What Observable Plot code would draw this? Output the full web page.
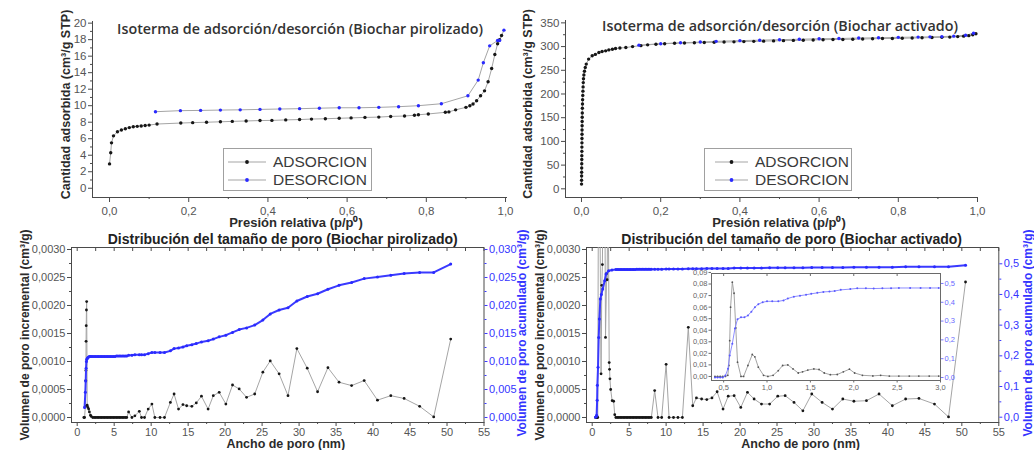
<!DOCTYPE html>
<html lang="es">
<head>
<meta charset="utf-8">
<script src="https://cdn.jsdelivr.net/npm/d3@7"></script>
<script src="https://cdn.jsdelivr.net/npm/@observablehq/plot@0.6"></script>
<style>
html,body{margin:0;padding:0;background:#fff;}
#chart{position:relative;width:1034px;height:450px;overflow:hidden;background:#fff;}
.lg{position:absolute;border:1px solid #a0a0a0;background:#fff;box-sizing:border-box;font-family:'Liberation Sans',Arial,sans-serif;font-size:15.5px;color:#3a3a3a;}
.lg .row{position:absolute;left:0;height:18px;width:100%;}
.lg svg{position:absolute;left:0;top:0;}
.lg span{position:absolute;line-height:18px;top:0;white-space:nowrap;}
</style>
</head>
<body>
<div id="chart"></div>
<script>
// ---------------- DATA ----------------
// Isotherm, pyrolyzed biochar [p/p0, cm3/g STP]
const isoPirAds = [[0.000,2.95],[0.003,4.3],[0.005,5.5],[0.010,6.35],[0.020,6.85],[0.030,7.05],[0.040,7.2],[0.050,7.35],[0.060,7.45],[0.070,7.5],[0.080,7.55],[0.090,7.6],[0.100,7.65],[0.120,7.78],[0.180,7.9],[0.210,7.95],[0.245,8.0],[0.280,8.05],[0.310,8.1],[0.345,8.15],[0.380,8.2],[0.410,8.22],[0.445,8.28],[0.480,8.32],[0.510,8.38],[0.545,8.42],[0.580,8.48],[0.610,8.52],[0.645,8.58],[0.680,8.62],[0.710,8.7],[0.745,8.75],[0.770,8.85],[0.780,8.9],[0.805,9.0],[0.848,9.2],[0.857,9.25],[0.874,9.5],[0.900,9.8],[0.910,10.0],[0.918,10.2],[0.927,10.6],[0.937,11.2],[0.947,11.8],[0.956,12.9],[0.965,14.5],[0.973,16.2],[0.980,17.5],[0.985,18.0],[0.990,18.5]];
const isoPirDes = [[0.116,9.27],[0.179,9.4],[0.230,9.43],[0.280,9.47],[0.330,9.5],[0.380,9.55],[0.430,9.6],[0.480,9.64],[0.530,9.7],[0.580,9.75],[0.630,9.75],[0.680,9.8],[0.730,9.88],[0.780,10.0],[0.838,10.24],[0.905,11.2],[0.931,13.1],[0.944,15.2],[0.960,17.25],[0.980,17.9],[0.985,17.9],[0.996,19.15]];
// Isotherm, activated biochar
const isoActAds = [[0.0001,10],[0.0002,18],[0.0003,27],[0.0004,35],[0.0005,44],[0.0006,53],[0.0007,62],[0.0008,70],[0.0009,79],[0.0010,88],[0.0011,97],[0.0012,106],[0.0013,115],[0.0014,124],[0.0015,133],[0.0016,142],[0.0018,151],[0.0020,160],[0.0022,170],[0.0025,179],[0.0028,188],[0.0032,197],[0.0036,206],[0.0040,215],[0.0045,224],[0.0050,232],[0.006,240],[0.0075,248],[0.0095,256],[0.012,263],[0.018,273.6],[0.027,280.6],[0.035,283.5],[0.044,287.6],[0.052,289.7],[0.061,291],[0.069,293],[0.078,294.5],[0.086,296],[0.097,297],[0.112,298],[0.129,300],[0.150,302],[0.167,303.6],[0.188,305],[0.210,306],[0.235,307],[0.260,307.5],[0.285,308],[0.310,308.5],[0.335,309],[0.360,309.5],[0.385,310],[0.410,310.5],[0.435,311],[0.460,311.5],[0.485,312],[0.510,312.5],[0.535,313],[0.560,313.5],[0.585,314],[0.610,314.5],[0.635,315],[0.660,315],[0.685,315.5],[0.710,316],[0.735,316.5],[0.760,317],[0.785,317],[0.810,317.5],[0.835,318],[0.860,318.5],[0.885,319],[0.910,319.5],[0.930,320],[0.950,321],[0.965,322],[0.978,323],[0.988,325],[0.996,327]];
const isoActDes = [[0.145,303],[0.200,306],[0.250,308],[0.300,309.5],[0.340,311],[0.400,312.5],[0.450,313.5],[0.500,314.5],[0.550,315.5],[0.600,316.5],[0.650,317],[0.700,318],[0.750,318.5],[0.800,319.5],[0.850,320],[0.880,320.5],[0.910,321],[0.940,322],[0.970,324],[0.990,328]];
// Pore size distribution, pyrolyzed biochar [nm, incremental cm3/g] and [nm, cumulative cm3/g]
const psdPirInc = [[0.9,0],[1.0,0],[1.1,0.0002],[1.15,0.00066],[1.18,0.00084],[1.2,0.00136],[1.22,0.00164],[1.25,0.00192],[1.28,0.00207],[1.35,0.00022],[1.45,0.00018],[1.55,0.00015],[1.65,0.0001],[1.8,0.00004],[1.9,0.00002],[2.1,0],[2.3,0],[2.5,0],[2.7,0],[2.9,0],[3.1,0],[3.3,0],[3.5,0],[3.7,0],[3.9,0],[4.1,0],[4.3,0],[4.5,0],[4.7,0],[4.9,0],[5.1,0],[5.3,0],[5.5,0],[5.7,0],[5.9,0],[6.1,0],[6.3,0],[6.5,0],[6.7,0],[6.95,0.0001],[7.4,0],[7.8,0.00003],[8.4,0.00011],[8.7,0],[9.1,0],[9.6,0.00015],[10.1,0.00024],[10.5,0],[11.2,0],[11.8,0],[12.6,0.00027],[13.1,0.00042],[13.7,0.00015],[14.3,0.00023],[14.8,0.00021],[15.5,0.0002],[16.1,0.00026],[16.8,0.00038],[17.7,0.00015],[18.4,0.00039],[19.2,0.00045],[20.1,0.00024],[21.0,0.00058],[21.9,0.00051],[22.9,0.00036],[24.0,0.00042],[25.1,0.00081],[26.1,0.00101],[27.3,0.00078],[28.5,0.00039],[29.7,0.00123],[31.1,0.00088],[32.5,0.00046],[33.9,0.00089],[35.4,0.00063],[37.1,0.00057],[38.8,0.00066],[40.6,0.00031],[42.4,0.00039],[44.2,0.00034],[46.3,0.0002],[48.2,0.00001],[50.5,0.0014]];
const psdPirCum = [[1.0,0.0018],[1.1,0.0045],[1.15,0.0065],[1.2,0.0088],[1.25,0.0100],[1.3,0.0104],[1.38,0.0106],[1.45,0.0107],[1.55,0.0108],[1.65,0.0109],[1.8,0.0109],[1.9,0.0109],[2.1,0.0109],[2.3,0.0109],[2.5,0.0109],[2.7,0.0109],[2.9,0.0109],[3.1,0.0109],[3.3,0.0109],[3.5,0.0109],[3.7,0.0109],[3.9,0.0109],[4.1,0.0109],[4.3,0.0109],[4.5,0.0109],[4.7,0.0109],[4.9,0.0109],[5.1,0.0109],[5.3,0.011],[5.5,0.011],[5.7,0.011],[5.9,0.011],[6.1,0.011],[6.3,0.011],[6.5,0.011],[6.7,0.011],[6.95,0.0111],[7.4,0.0111],[7.8,0.0112],[8.4,0.0112],[8.7,0.0112],[9.1,0.0112],[9.6,0.0114],[10.1,0.0116],[10.5,0.0116],[11.2,0.0116],[11.8,0.0116],[12.6,0.0119],[13.1,0.0123],[13.7,0.0124],[14.3,0.0126],[14.8,0.0128],[15.5,0.013],[16.1,0.0132],[16.8,0.0135],[17.7,0.0137],[18.4,0.014],[19.2,0.0144],[20.1,0.0147],[21.0,0.0152],[21.9,0.0157],[22.9,0.016],[24.0,0.0165],[25.1,0.0174],[26.1,0.0185],[27.3,0.0192],[28.5,0.0196],[29.7,0.0208],[31.1,0.0216],[32.5,0.0221],[33.9,0.0229],[35.4,0.0236],[37.1,0.0241],[38.8,0.0248],[40.6,0.0251],[42.4,0.0254],[44.2,0.0257],[46.3,0.0259],[48.2,0.0259],[50.5,0.0274]];
// Pore size distribution, activated biochar (values above 0.0030 run off the top of the frame)
const psdActInc = [[0.45,0],[0.55,0],[0.65,0],[0.75,0],[0.85,0.0045],[1.0,0.0045],[1.2,0.00078],[1.3,0.00236],[1.38,0.00273],[1.5,0.0045],[1.7,0.0045],[1.8,0.00143],[1.95,0.00257],[2.02,0.00246],[2.15,0.0045],[2.3,0.00098],[2.35,0.00086],[2.4,0.00069],[2.5,0.0005],[2.7,0.0003],[2.9,0.00029],[3.05,0.00005],[3.2,0],[3.4,0],[3.6,0],[3.8,0],[4.0,0],[4.2,0],[4.4,0],[4.6,0],[4.8,0],[5.0,0],[5.2,0],[5.4,0],[5.6,0],[5.8,0],[6.0,0],[6.2,0],[6.4,0],[6.6,0],[6.8,0],[7.0,0],[7.2,0],[7.4,0],[7.6,0],[7.8,0],[8.0,0],[8.45,0.00048],[8.9,0],[9.4,0],[10.0,0.00095],[10.4,0],[11.0,0],[11.6,0],[12.2,0],[13.0,0.00161],[13.6,0.00021],[14.1,0.00035],[14.8,0.00033],[15.5,0.00032],[16.2,0.00035],[16.9,0.00046],[17.7,0.00015],[18.4,0.00038],[19.2,0.00039],[20.1,0.00018],[21.0,0.00045],[21.9,0.00033],[22.9,0.00024],[24.0,0.00024],[25.1,0.00038],[26.1,0.00039],[27.3,0.00027],[28.5,0.00012],[29.7,0.00042],[31.1,0.00027],[32.5,0.00015],[33.9,0.00033],[35.4,0.00029],[37.1,0.0003],[38.8,0.00042],[40.6,0.00021],[42.4,0.00033],[44.2,0.00034],[46.3,0.00024],[48.2,0.00001],[50.5,0.00242]];
const psdActCum = [[0.45,0],[0.55,0.002],[0.6,0.006],[0.67,0.055],[0.7,0.104],[0.79,0.163],[0.88,0.26],[0.97,0.32],[1.1,0.385],[1.24,0.40],[1.42,0.418],[1.69,0.445],[1.87,0.467],[2.23,0.477],[2.67,0.48],[3.2,0.481],[3.4,0.481],[3.6,0.481],[3.8,0.481],[4.0,0.481],[4.2,0.481],[4.4,0.481],[4.6,0.481],[4.8,0.481],[5.0,0.481],[5.2,0.481],[5.4,0.481],[5.6,0.481],[5.8,0.481],[6.0,0.482],[6.2,0.482],[6.4,0.482],[6.6,0.482],[6.8,0.482],[7.0,0.482],[7.2,0.482],[7.4,0.482],[7.6,0.482],[7.8,0.482],[8.0,0.482],[8.45,0.482],[8.9,0.482],[9.4,0.482],[10.0,0.483],[10.4,0.483],[11.0,0.483],[11.6,0.483],[12.2,0.483],[13.0,0.484],[13.6,0.484],[14.1,0.484],[14.8,0.484],[15.5,0.485],[16.2,0.485],[16.9,0.485],[17.7,0.485],[18.4,0.485],[19.2,0.486],[20.1,0.486],[21.0,0.486],[21.9,0.486],[22.9,0.486],[24.0,0.487],[25.1,0.487],[26.1,0.487],[27.3,0.487],[28.5,0.487],[29.7,0.488],[31.1,0.488],[32.5,0.488],[33.9,0.488],[35.4,0.489],[37.1,0.489],[38.8,0.489],[40.6,0.489],[42.4,0.49],[44.2,0.49],[46.3,0.49],[48.2,0.49],[50.5,0.495]];
// Inset (activated, 0.4–3 nm)
const insetInc = [[0.40,0],[0.43,0],[0.46,0],[0.49,0],[0.52,0],[0.548,0.001],[0.56,0.0095],[0.57,0.031],[0.58,0.06],[0.60,0.0816],[0.62,0.072],[0.64,0.042],[0.66,0.0124],[0.70,0],[0.73,0],[0.78,0.0095],[0.83,0.019],[0.86,0.017],[0.90,0.008],[0.96,0.001],[1.01,0],[1.07,0.001],[1.13,0.005],[1.18,0.0095],[1.24,0.010],[1.30,0.0065],[1.36,0.003],[1.41,0.004],[1.47,0.0055],[1.54,0.0065],[1.60,0.006],[1.66,0.003],[1.73,0.0015],[1.81,0.0017],[1.88,0.004],[1.95,0.0063],[2.01,0.003],[2.10,0.001],[2.22,0.0005],[2.31,0.001],[2.41,0.0003],[2.52,0.0003],[2.64,0.0003],[2.75,0.0003],[2.87,0.0003],[2.98,0.0003]];
const insetCum = [[0.40,0],[0.43,0],[0.46,0],[0.49,0],[0.52,0.01],[0.55,0.046],[0.57,0.117],[0.60,0.18],[0.63,0.26],[0.66,0.31],[0.70,0.32],[0.74,0.32],[0.78,0.33],[0.82,0.35],[0.86,0.374],[0.90,0.39],[0.95,0.40],[1.00,0.405],[1.06,0.405],[1.13,0.405],[1.19,0.41],[1.24,0.42],[1.31,0.43],[1.38,0.435],[1.45,0.44],[1.51,0.445],[1.58,0.45],[1.65,0.455],[1.72,0.457],[1.78,0.46],[1.85,0.466],[1.96,0.47],[2.04,0.474],[2.14,0.474],[2.23,0.473],[2.33,0.474],[2.43,0.475],[2.52,0.476],[2.65,0.476],[2.77,0.476],[2.88,0.476],[2.98,0.476]];

// Ticks
const isoPirYTicks = [0,2,4,6,8,10,12,14,16,18,20];
const isoPirYMinor = [1,3,5,7,9,11,13,15,17,19];
const isoActYTicks = [0,50,100,150,200,250,300,350];
const isoActYMinor = [25,75,125,175,225,275,325];
const isoXTicks = [0,0.2,0.4,0.6,0.8,1.0];
const isoXMinor = [0.1,0.3,0.5,0.7,0.9];
const psdXTicks = [0,5,10,15,20,25,30,35,40,45,50,55];
const psdXMinor = [2.5,7.5,12.5,17.5,22.5,27.5,32.5,37.5,42.5,47.5,52.5];
const psdYTicks = [0,0.0005,0.001,0.0015,0.002,0.0025,0.003];
const psdYMinor = [0.00025,0.00075,0.00125,0.00175,0.00225,0.00275];
const psdPirRTicks = [0,0.005,0.01,0.015,0.02,0.025,0.03];
const psdPirRMinor = [0.0025,0.0075,0.0125,0.0175,0.0225,0.0275];
const psdActRTicks = [0,0.1,0.2,0.3,0.4,0.5];
const psdActRMinor = [0.05,0.15,0.25,0.35,0.45];
const insetXTicks = [0.5,1.0,1.5,2.0,2.5,3.0];
const insetYTicks = [0,0.01,0.02,0.03,0.04,0.05,0.06,0.07,0.08,0.09];
const insetRTicks = [0,0.1,0.2,0.3,0.4,0.5];

// Texts
const titles = ["Isoterma de adsorción/desorción (Biochar pirolizado)", "Isoterma de adsorción/desorción (Biochar activado)",
  "Distribución del tamaño de poro (Biochar pirolizado)", "Distribución del tamaño de poro (Biochar activado)"];
const isoYLabel = "Cantidad adsorbida (cm³/g STP)";
const isoXLabel = "Presión relativa (p/p⁰)";
const psdXLabel = "Ancho de poro (nm)";
const psdIncLabel = "Volumen de poro incremental (cm³/g)";
const psdCumLabel = "Volumen de poro acumulado (cm³/g)";
const legendLabels = ["ADSORCION", "DESORCION"];

// ---------------- DRAWING ----------------
const chart = document.getElementById("chart");
const F = "'Liberation Sans', Arial, sans-serif";
const BLACK = "#161616", GRAYLINE = "#a5a5a5", BLUE = "#2a2aff", BLUELINE = "#3a3aff", AXIS = "#4a4a4a", TXT = "#555", LAB = "#2b2b2b", BLUETXT = "#3535ff";
const fx = d => d[0], fy = d => d[1];
const comma = (d, n) => d.toFixed(n).replace(".", ",");
const st = (l, t, fs = "11px") => ({position: "absolute", left: l + "px", top: t + "px", background: "transparent", overflow: "visible", fontFamily: F, fontSize: fs, color: TXT});
const add = p => chart.appendChild(p);

function yAxes(major, minor, fmt, opt = {}) {
  const base = {tickSize: 4, tickPadding: 2, stroke: AXIS, fill: TXT, label: null, ...opt};
  return [
    Plot.axisY({...base, ticks: major, tickFormat: fmt}),
    Plot.axisY({...base, ticks: minor, tickFormat: () => "", tickSize: 2})
  ];
}
function xAxes(major, minor, fmt, opt = {}) {
  const base = {tickSize: 4, tickPadding: 3, stroke: AXIS, fill: TXT, label: null, ...opt};
  return [
    Plot.axisX({...base, ticks: major, tickFormat: fmt}),
    Plot.axisX({...base, ticks: minor, tickFormat: () => "", tickSize: 2})
  ];
}
function isoPanel(o) {
  return Plot.plot({
    width: 517, height: 225, marginLeft: o.ml, marginRight: o.mr, marginTop: o.mt, marginBottom: 28,
    style: st(o.left, 0, "11.5px"),
    x: {domain: o.xd}, y: {domain: o.yd},
    marks: [
      Plot.ruleX([o.xd[0]], {stroke: AXIS}),
      Plot.ruleY([o.yd[0]], {stroke: AXIS}),
      ...yAxes(o.yt, o.ym, d => String(d)),
      ...xAxes(isoXTicks, isoXMinor, d => comma(d, 1), {tickSize: 5, tickPadding: 4}),
      Plot.line(o.des, {x: fx, y: fy, stroke: GRAYLINE, strokeWidth: 1}),
      Plot.line(o.ads, {x: fx, y: fy, stroke: GRAYLINE, strokeWidth: 1}),
      Plot.dot(o.ads, {x: fx, y: fy, r: 1.7, fill: BLACK}),
      Plot.dot(o.des, {x: fx, y: fy, r: 1.7, fill: BLUE}),
      Plot.text([o.title], {frameAnchor: "top", textAnchor: "middle", lineAnchor: "middle", dx: o.tdx, dy: o.tdy, fontFamily: "'Open Sans', sans-serif", fontWeight: 600, fontSize: 14.3, fill: "#333"}),
      Plot.text([isoYLabel], {frameAnchor: "left", textAnchor: "middle", rotate: -90, lineAnchor: "middle", dx: o.ydx, dy: -5, fontWeight: "bold", fontSize: 12.5, fill: LAB}),
      Plot.text([isoXLabel], {frameAnchor: "bottom", textAnchor: "middle", lineAnchor: "middle", dx: o.xdx, dy: 25, fontWeight: "bold", fontSize: 13, fill: LAB})
    ]
  });
}

add(isoPanel({left: 0, ml: 92, mr: 10, mt: 21, xd: [-0.043, 1.005], yd: [-1.12, 20.2], yt: isoPirYTicks, ym: isoPirYMinor,
  ads: isoPirAds, des: isoPirDes, title: titles[0], tdx: 0, tdy: 8, ydx: -27, xdx: -4}));
add(isoPanel({left: 517, ml: 48, mr: 56, mt: 20, xd: [-0.0404, 1.0025], yd: [-18.3, 355], yt: isoActYTicks, ym: isoActYMinor,
  ads: isoActAds, des: isoActDes, title: titles[1], tdx: 8, tdy: 6, ydx: -38, xdx: 7}));

// Legends
function addLegend(b, colors) {
  const d = document.createElement("div");
  d.className = "lg";
  Object.assign(d.style, {left: b.left + "px", top: b.top + "px", width: b.w + "px", height: b.h + "px"});
  legendLabels.forEach((lab, i) => {
    const row = document.createElement("div");
    row.className = "row";
    row.style.top = (b.r0 + i * 18 - 9) + "px";
    row.innerHTML = `<svg width="${b.w}" height="18"><line x1="${b.l1}" x2="${b.l2}" y1="9" y2="9" stroke="${GRAYLINE}" stroke-width="1"/><circle cx="${(b.l1 + b.l2) / 2}" cy="9" r="1.9" fill="${colors[i]}"/></svg><span style="left:${b.tx}px">${lab}</span>`;
    d.appendChild(row);
  });
  chart.appendChild(d);
}
addLegend({left: 223, top: 148, w: 149, h: 43, r0: 13, l1: 4, l2: 42, tx: 49}, [BLACK, BLUE]);
addLegend({left: 704, top: 148, w: 148, h: 43, r0: 13, l1: 10, l2: 43, tx: 50}, [BLACK, BLUE]);

// Pore size distribution panels
function psdBase(o) {
  return Plot.plot({
    width: o.w, height: 225, marginLeft: o.ml, marginRight: o.mr, marginTop: 22, marginBottom: 28,
    style: st(o.left, 225),
    x: {domain: o.xd}, y: {domain: o.yd},
    marks: [
      Plot.frame({stroke: AXIS}),
      ...yAxes(psdYTicks, psdYMinor, d => comma(d, 4)),
      ...xAxes(psdXTicks, psdXMinor, d => String(d), {tickPadding: 2}),
      Plot.axisX({anchor: "top", ticks: psdXTicks.concat(psdXMinor), tickSize: -3, tickFormat: () => "", stroke: AXIS, label: null}),
      Plot.line(o.inc, {x: fx, y: fy, stroke: GRAYLINE, strokeWidth: 1, clip: true}),
      Plot.dot(o.inc, {x: fx, y: fy, r: 1.4, fill: BLACK, clip: true}),
      Plot.text([o.title], {frameAnchor: "top", textAnchor: "middle", lineAnchor: "middle", dx: o.tdx, dy: -8, fontWeight: "bold", fontSize: 14, fill: "#222"}),
      Plot.text([psdIncLabel], {frameAnchor: "left", textAnchor: "middle", rotate: -90, lineAnchor: "middle", dx: -46, dy: 0, fontWeight: "bold", fontSize: 12, fill: LAB}),
      Plot.text([psdXLabel], {frameAnchor: "bottom", textAnchor: "middle", lineAnchor: "middle", dx: o.xdx, dy: 21, fontWeight: "bold", fontSize: 12.5, fill: LAB})
    ]
  });
}
function psdOverlay(o) {
  return Plot.plot({
    width: o.w, height: 225, marginLeft: o.ml, marginRight: o.mr, marginTop: 22, marginBottom: 28,
    style: st(o.left, 225),
    x: {domain: o.xd, axis: null}, y: {domain: o.yd},
    marks: [
      ...yAxes(o.rt, o.rm, o.fmt, {anchor: "right", tickSize: 3, tickPadding: 2, stroke: BLUELINE, fill: BLUETXT}),
      Plot.line(o.cum, {x: fx, y: fy, stroke: BLUELINE, strokeWidth: 2, clip: true}),
      Plot.dot(o.cum, {x: fx, y: fy, r: 1.5, fill: BLUE, clip: true}),
      Plot.text([psdCumLabel], {frameAnchor: "right", textAnchor: "middle", rotate: -90, lineAnchor: "middle", dx: o.ldx, dy: -2, fontWeight: "bold", fontSize: 12, fill: BLUETXT})
    ]
  });
}
const psdXD = [-0.77, 55];
const pirL = {left: 0, w: 540, ml: 71, mr: 540 - 483.5, xd: psdXD};
add(psdBase({...pirL, yd: [-0.0000893, 0.0030357], inc: psdPirInc, title: titles[2], tdx: 5, xdx: 8}));
add(psdOverlay({...pirL, yd: [-0.000893, 0.030357], rt: psdPirRTicks, rm: psdPirRMinor, fmt: d => comma(d, 3), cum: psdPirCum, ldx: 38.5}));
const actL = {left: 517, w: 517, ml: 69, mr: 517 - 481.3, xd: psdXD};
add(psdBase({...actL, yd: [-0.0000893, 0.0030357], inc: psdActInc, title: titles[3], tdx: -1, xdx: 8}));
add(psdOverlay({...actL, yd: [-0.0173, 0.5531], rt: psdActRTicks, rm: psdActRMinor, fmt: d => comma(d, 1), cum: psdActCum, ldx: 29.7}));

// Inset
const inXD = [0.36, 3.0];
const inDims = {width: 280, height: 130, marginLeft: 21, marginRight: 30, marginTop: 8, marginBottom: 15};
add(Plot.plot({
  ...inDims, style: st(690, 265, "7.5px"),
  x: {domain: inXD}, y: {domain: [-0.0035, 0.0891]},
  marks: [
    Plot.frame({fill: "white", stroke: "#6a6a6a"}),
    Plot.axisY({ticks: insetYTicks, tickFormat: d => comma(d, 2), tickSize: 2.5, tickPadding: 1.5, stroke: "#6a6a6a", fill: "#666", label: null}),
    Plot.axisX({ticks: insetXTicks, tickFormat: d => comma(d, 1), tickSize: 2.5, tickPadding: 1.5, stroke: "#6a6a6a", fill: "#666", label: null}),
    Plot.axisX({anchor: "top", ticks: insetXTicks, tickSize: -2, tickFormat: () => "", stroke: "#6a6a6a", label: null}),
    Plot.line(insetInc, {x: fx, y: fy, stroke: "#9a9a9a", strokeWidth: 0.9, clip: true}),
    Plot.dot(insetInc, {x: fx, y: fy, r: 0.9, fill: "#555", clip: true})
  ]
}));
add(Plot.plot({
  ...inDims, style: st(690, 265, "7.5px"),
  x: {domain: inXD, axis: null}, y: {domain: [-0.016, 0.553]},
  marks: [
    Plot.axisY({anchor: "right", ticks: insetRTicks, tickFormat: d => comma(d, 1), tickSize: 2.5, tickPadding: 1.5, stroke: "#7a7aff", fill: "#6a6aff", label: null}),
    Plot.line(insetCum, {x: fx, y: fy, stroke: "#8080ff", strokeWidth: 0.9, clip: true}),
    Plot.dot(insetCum, {x: fx, y: fy, r: 1, fill: "#5a5aff", clip: true})
  ]
}));
</script>
</body>
</html>
